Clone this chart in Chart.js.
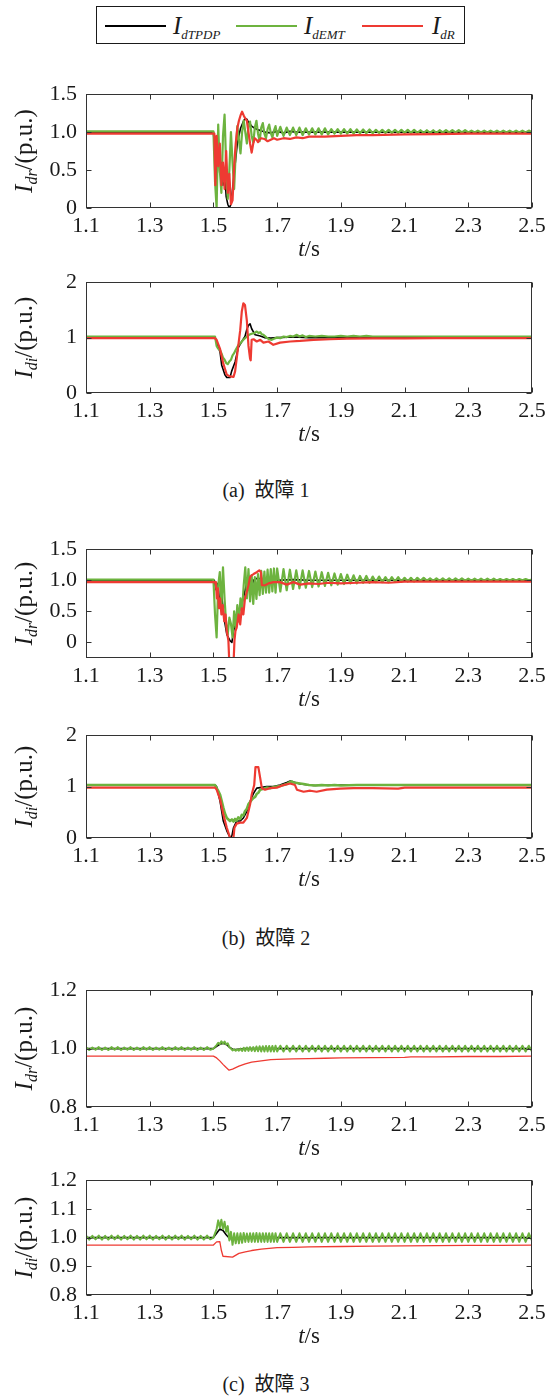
<!DOCTYPE html>
<html><head><meta charset="utf-8">
<script src="https://cdn.jsdelivr.net/npm/chart.js@4.4.1/dist/chart.umd.min.js"></script>
<style>
html,body{margin:0;padding:0;background:#fff;}
#page{position:relative;width:558px;height:1396px;overflow:hidden;background:#fff;font-family:"Liberation Serif","Times New Roman",serif;color:#1a1a1a;}
.pane{position:absolute;left:0;}
.pane canvas{display:block;}
.lgbox{position:absolute;left:96px;top:6px;width:367px;height:36px;border:1.5px solid #1a1a1a;}
.lgl{position:absolute;height:2px;top:25px;}
.lgt{position:absolute;top:13px;font:italic 25px "Liberation Serif";line-height:25px;white-space:nowrap;color:#1a1a1a;}
.lgt span{font-size:13px;position:relative;top:5px;}
.cap{position:absolute;left:0;width:532px;text-align:center;font-size:20px;line-height:22px;white-space:nowrap;font-family:"Liberation Serif","Noto Sans CJK SC",serif;color:#1a1a1a;}
</style></head>
<body>
<div id="page">
  <div class="lgbox"></div>
  <div class="lgl" style="left:105px;width:61px;background:#000;"></div>
  <div class="lgt" style="left:173px;">I<span>dTPDP</span></div>
  <div class="lgl" style="left:236px;width:61px;background:#6db33f;"></div>
  <div class="lgt" style="left:304px;">I<span>dEMT</span></div>
  <div class="lgl" style="left:362px;width:61px;background:#ee3a32;"></div>
  <div class="lgt" style="left:432px;">I<span>dR</span></div>

  <div class="pane" style="top:72px;"><canvas id="cA1" width="558" height="196" style="width:558px;height:196px;"></canvas></div>
  <div class="pane" style="top:260px;"><canvas id="cA2" width="558" height="193" style="width:558px;height:193px;"></canvas></div>
  <div class="cap" style="top:479px;">(a)&nbsp;&nbsp;故障 1</div>
  <div class="pane" style="top:527px;"><canvas id="cB1" width="558" height="191" style="width:558px;height:191px;"></canvas></div>
  <div class="pane" style="top:713px;"><canvas id="cB2" width="558" height="185" style="width:558px;height:185px;"></canvas></div>
  <div class="cap" style="top:927px;">(b)&nbsp;&nbsp;故障 2</div>
  <div class="pane" style="top:968px;"><canvas id="cC1" width="558" height="199" style="width:558px;height:199px;"></canvas></div>
  <div class="pane" style="top:1158px;"><canvas id="cC2" width="558" height="197" style="width:558px;height:197px;"></canvas></div>
  <div class="cap" style="top:1373px;">(c)&nbsp;&nbsp;故障 3</div>
</div>
<script>
// ---------- tick values / labels ----------
const xTicks = [1.1, 1.3, 1.5, 1.7, 1.9, 2.1, 2.3, 2.5];
const xTickLabels = ['1.1', '1.3', '1.5', '1.7', '1.9', '2.1', '2.3', '2.5'];
const yTicksDr12 = [0, 0.5, 1.0, 1.5];
const yLabelsDr12 = ['0', '0.5', '1.0', '1.5'];
const yTicksDi12 = [0, 1, 2];
const yLabelsDi12 = ['0', '1', '2'];
const yTicksDr3 = [0.8, 1.0, 1.2];
const yLabelsDr3 = ['0.8', '1.0', '1.2'];
const yTicksDi3 = [0.8, 0.9, 1.0, 1.1, 1.2];
const yLabelsDi3 = ['0.8', '0.9', '1.0', '1.1', '1.2'];

// ---------- shared time samples (s) ----------
const tPre = [1.10,1.11,1.12,1.13,1.14,1.15,1.16,1.17,1.18,1.19,1.20,1.21,1.22,1.23,1.24,1.25,1.26,1.27,1.28,1.29,
  1.30,1.31,1.32,1.33,1.34,1.35,1.36,1.37,1.38,1.39,1.40,1.41,1.42,1.43,1.44,1.45,1.46,1.47,1.48,1.49];
const tFine = [1.500,1.505,1.510,1.515,1.520,1.525,1.530,1.535,1.540,1.545,1.550,1.555,1.560,1.565,1.570,1.575,1.580,1.585,1.590,1.595,
  1.600,1.605,1.610,1.615,1.620,1.625,1.630,1.635,1.640,1.645,1.650,1.655,1.660,1.665,1.670,1.675,1.680,1.685,1.690,1.695];
const tSteady = [1.70,1.71,1.72,1.73,1.74,1.75,1.76,1.77,1.78,1.79,1.80,1.81,1.82,1.83,1.84,1.85,1.86,1.87,1.88,1.89,
  1.90,1.91,1.92,1.93,1.94,1.95,1.96,1.97,1.98,1.99,2.00,2.01,2.02,2.03,2.04,2.05,2.06,2.07,2.08,2.09,
  2.10,2.11,2.12,2.13,2.14,2.15,2.16,2.17,2.18,2.19,2.20,2.21,2.22,2.23,2.24,2.25,2.26,2.27,2.28,2.29,
  2.30,2.31,2.32,2.33,2.34,2.35,2.36,2.37,2.38,2.39,2.40,2.41,2.42,2.43,2.44,2.45,2.46,2.47,2.48,2.49,2.50];

// ---------- (a) fault 1, I_dr ----------
const kA1T = [1.1,1.5,1.505,1.51,1.515,1.52,1.525,1.53,1.535,1.54,1.545,1.55,1.555,1.56,1.565,1.57,1.575,1.58,1.585,1.59,1.595,1.6,1.605,1.61,1.62,1.63,1.64,1.65,1.66,1.68,1.7,1.72,1.74,1.76,1.8,1.9,2.0,2.5];
const kA1V = [1.0,1.0,0.7,0.35,0.8,0.45,0.6,0.3,0.5,0.15,0.05,0.0,0.05,0.25,0.45,0.65,0.85,0.95,1.05,1.1,1.15,1.18,1.17,1.13,1.08,1.05,1.03,1.02,1.0,0.99,1.01,0.99,1.01,1.0,1.0,1.0,1.0,1.0];
const gA1T = [1.1].concat(tFine, tSteady);
const gA1V = [1.01,
  1.01,0.35,0.0,1.1,0.5,0.2,0.95,1.23,0.55,0.12,
  0.5,1.0,0.6,0.25,0.75,1.08,0.9,0.72,1.0,1.15,
  1.0,0.85,1.08,1.14,0.95,0.86,1.06,1.15,0.98,0.88,
  1.06,1.12,0.98,0.92,1.04,1.1,0.99,0.93,1.02,1.08,
  0.95,1.07,0.95,1.06,0.96,1.06,0.96,1.06,0.96,1.05,0.97,
  1.05,0.97,1.05,0.97,1.05,0.97,1.04,0.98,1.04,0.98,
  1.04,0.98,1.04,0.98,1.035,0.985,1.035,0.985,1.035,0.985,
  1.03,0.99,1.03,0.99,1.03,0.99,1.03,0.99,1.03,0.99,
  1.03,0.99,1.03,0.99,1.025,0.99,1.025,0.99,1.025,0.99,
  1.025,0.995,1.025,0.995,1.025,0.995,1.025,0.995,1.025,0.995,
  1.02,0.995,1.02,0.995,1.02,0.995,1.02,0.995,1.02,0.995,
  1.02,0.995,1.02,0.995,1.02,0.995,1.02,0.995,1.02,1.0];
const rA1T = [1.1,1.503,1.506,1.51,1.515,1.52,1.525,1.53,1.535,1.54,1.545,1.55,1.555,1.56,1.565,1.57,1.575,1.58,1.585,1.59,1.595,1.6,1.605,1.61,1.615,1.62,1.625,1.63,1.635,1.64,1.645,1.65,1.66,1.67,1.68,1.69,1.7,1.72,1.74,1.76,1.78,1.8,1.85,1.9,1.95,2.0,2.1,2.2,2.3,2.5];
const rA1V = [0.98,0.98,0.3,0.95,0.55,0.85,0.3,0.6,0.25,0.75,0.2,0.45,0.05,0.1,0.55,0.85,1.05,1.15,1.22,1.27,1.22,1.18,1.15,1.0,0.85,0.73,0.85,0.92,0.9,0.87,0.9,0.92,0.91,0.88,0.9,0.92,0.9,0.92,0.91,0.93,0.92,0.94,0.94,0.95,0.96,0.96,0.97,0.975,0.98,0.98];

// ---------- (a) fault 1, I_di ----------
const kA2T = [1.1,1.505,1.51,1.521,1.526,1.536,1.542,1.552,1.557,1.568,1.578,1.589,1.599,1.605,1.61,1.615,1.62,1.631,1.647,1.66,1.68,1.7,1.75,1.8,2.5];
const kA2V = [1.0,1.0,0.93,0.73,0.5,0.33,0.28,0.28,0.39,0.56,0.82,0.93,1.02,1.15,1.22,1.25,1.16,1.05,1.03,1.0,0.99,1.0,1.01,1.0,1.0];
const gA2T = [1.1,1.505,1.51,1.515,1.52,1.525,1.53,1.535,1.54,1.545,1.55,1.555,1.56,1.565,1.57,1.578,1.585,1.594,1.605,1.612,1.62,1.628,1.636,1.642,1.647,1.652,1.657,1.667,1.675,1.683,1.69,1.699,1.71,1.72,1.73,1.74,1.75,1.762,1.77,1.78,1.79,1.8,1.82,1.84,1.86,1.88,1.9,1.92,1.94,1.96,1.98,2.0,2.5];
const gA2V = [1.02,1.02,0.85,0.8,0.78,0.72,0.64,0.6,0.54,0.52,0.57,0.6,0.68,0.72,0.78,0.86,0.9,0.96,1.02,1.05,1.07,1.08,1.11,1.08,1.1,1.06,1.05,1.0,0.97,0.96,0.98,1.0,0.99,1.02,1.01,1.03,1.02,1.05,1.02,1.04,1.01,1.03,1.02,1.03,1.02,1.02,1.03,1.02,1.03,1.02,1.03,1.02,1.02];
const rA2T = [1.1,1.505,1.51,1.521,1.531,1.542,1.552,1.563,1.568,1.573,1.578,1.584,1.589,1.594,1.599,1.605,1.61,1.615,1.617,1.62,1.626,1.636,1.647,1.657,1.673,1.688,1.709,1.741,1.772,1.814,1.866,1.919,2.0,2.1,2.2,2.3,2.5];
const rA2V = [0.99,0.99,0.96,0.79,0.53,0.33,0.3,0.29,0.39,0.62,0.85,1.13,1.47,1.62,1.59,1.3,0.85,0.62,0.59,0.96,0.97,0.93,0.96,0.91,0.93,0.87,0.91,0.93,0.94,0.96,0.97,0.98,0.985,0.985,0.99,0.99,0.99];

// ---------- (b) fault 2, I_dr ----------
const kB1T = [1.1,1.503,1.508,1.514,1.52,1.526,1.534,1.542,1.552,1.558,1.563,1.573,1.584,1.594,1.605,1.61,1.615,1.62,1.626,1.636,1.66,1.7,1.75,1.8,1.9,2.5];
const kB1V = [1.0,1.0,0.85,0.95,0.6,0.75,0.37,0.13,0.03,0.0,0.18,0.39,0.55,0.71,0.97,1.08,0.97,0.89,1.0,1.03,1.02,1.0,1.01,1.0,1.0,1.0];
const gB1T = [1.1].concat(tFine, tSteady);
const gB1V = [1.01,
  1.01,0.45,0.08,0.92,1.13,0.55,1.21,0.7,0.3,0.13,
  0.4,0.3,0.08,0.5,0.24,0.6,0.34,0.71,0.5,0.92,
  1.21,0.71,1.18,0.66,1.08,0.62,1.05,0.7,1.1,0.76,
  1.15,0.78,1.14,0.8,1.17,0.8,1.18,0.82,1.19,0.8,
  1.19,0.82,1.18,0.84,1.17,0.86,1.16,0.87,1.16,0.88,1.15,
  0.89,1.14,0.9,1.13,0.91,1.12,0.92,1.11,0.93,1.1,
  0.94,1.09,0.95,1.08,0.95,1.07,0.96,1.07,0.96,1.06,
  0.97,1.06,0.97,1.05,0.97,1.05,0.98,1.05,0.98,1.04,
  0.98,1.04,0.98,1.04,0.99,1.04,0.99,1.03,0.99,1.03,
  0.99,1.03,0.99,1.03,0.99,1.03,0.995,1.03,0.995,1.025,
  0.995,1.025,0.995,1.025,0.995,1.025,0.995,1.025,0.995,1.02,
  0.995,1.02,0.995,1.02,0.995,1.02,1.0,1.02,1.0,1.01];
const rB1T = [1.1,1.505,1.508,1.511,1.514,1.517,1.521,1.525,1.529,1.534,1.538,1.542,1.547,1.55,1.563,1.566,1.569,1.573,1.579,1.584,1.589,1.594,1.599,1.605,1.61,1.615,1.62,1.626,1.636,1.644,1.649,1.652,1.662,1.673,1.688,1.709,1.73,1.751,1.772,1.8,1.83,1.86,1.9,1.95,2.0,2.05,2.1,2.2,2.5];
const rB1V = [0.97,0.97,0.92,0.71,0.87,0.55,0.71,0.45,0.6,0.34,0.45,0.18,0.03,-0.35,-0.35,0.03,0.18,0.24,0.45,0.29,0.55,0.45,0.71,0.82,0.92,1.05,1.08,1.1,1.13,1.16,1.13,0.92,0.92,0.95,0.97,0.97,0.93,0.97,0.93,0.95,0.94,0.96,0.95,0.96,0.97,0.96,0.98,0.98,0.98];

// ---------- (b) fault 2, I_di ----------
const kB2T = [1.1,1.505,1.51,1.521,1.531,1.542,1.552,1.558,1.563,1.573,1.584,1.594,1.605,1.615,1.626,1.636,1.647,1.667,1.688,1.709,1.73,1.741,1.751,1.772,1.814,1.9,2.5];
const kB2V = [1.03,1.03,1.0,0.71,0.33,0.14,0.01,0.04,0.2,0.33,0.33,0.39,0.52,0.71,0.87,0.97,0.98,1.0,1.0,1.03,1.08,1.11,1.09,1.05,1.02,1.03,1.03];
const gB2T = [1.1,1.505,1.51,1.515,1.521,1.526,1.531,1.536,1.542,1.547,1.552,1.558,1.563,1.568,1.573,1.578,1.584,1.589,1.594,1.599,1.605,1.61,1.615,1.62,1.626,1.631,1.636,1.641,1.647,1.657,1.667,1.678,1.688,1.699,1.709,1.72,1.73,1.741,1.746,1.751,1.762,1.772,1.783,1.8,1.82,1.84,1.86,1.88,1.9,1.95,2.0,2.1,2.5];
const gB2V = [1.03,1.03,0.97,0.92,0.84,0.72,0.59,0.48,0.39,0.36,0.33,0.36,0.32,0.37,0.34,0.4,0.37,0.45,0.44,0.52,0.57,0.66,0.7,0.74,0.78,0.8,0.86,0.88,0.94,0.96,0.98,0.97,0.99,1.0,1.01,1.03,1.05,1.09,1.1,1.08,1.07,1.06,1.05,1.03,1.02,1.03,1.02,1.03,1.02,1.03,1.03,1.03,1.03];
const rB2T = [1.1,1.505,1.51,1.521,1.531,1.542,1.552,1.556,1.56,1.563,1.566,1.573,1.584,1.594,1.605,1.61,1.615,1.62,1.628,1.632,1.641,1.647,1.652,1.662,1.678,1.699,1.72,1.741,1.756,1.762,1.783,1.804,1.824,1.856,1.898,1.94,2.0,2.08,2.1,2.5];
const rB2V = [0.98,0.98,0.94,0.75,0.46,0.2,0.01,-0.05,-0.05,0.01,0.2,0.28,0.3,0.3,0.39,0.52,0.65,0.84,1.03,1.38,1.38,1.16,0.97,0.94,0.97,0.98,1.03,1.06,1.03,0.94,0.9,0.92,0.9,0.94,0.96,0.97,0.97,0.96,0.98,0.98];

// ---------- (c) fault 3, I_dr ----------
const kC1T = [1.1,1.5,1.51,1.52,1.53,1.54,1.55,1.56,1.57,1.6,2.5];
const kC1V = [1.0,1.0,1.008,1.015,1.018,1.015,1.005,0.998,0.997,1.0,1.0];
const gC1T = tPre.concat(tFine, tSteady);
const gC1V = [
  1.005,0.995,1.004,0.996,1.005,0.995,1.004,0.995,1.005,0.996,
  1.005,0.995,1.004,0.996,1.005,0.995,1.004,0.995,1.005,0.996,
  1.005,0.995,1.004,0.996,1.005,0.995,1.004,0.995,1.005,0.996,
  1.005,0.995,1.004,0.996,1.005,0.995,1.004,0.995,1.005,0.996,
  1.0,1.006,1.012,1.02,1.015,1.025,1.017,1.024,1.014,1.018,
  1.005,1.0,0.994,0.998,0.993,0.998,0.993,1.0,0.992,1.003,
  0.992,1.004,0.992,1.005,0.992,1.005,0.991,1.007,0.991,1.008,
  0.99,1.008,0.99,1.009,0.99,1.009,0.99,1.009,0.99,1.01,
  0.99,1.01,0.99,1.01,0.99,1.01,0.99,1.01,0.99,1.01,0.99,
  1.01,0.99,1.01,0.99,1.01,0.99,1.01,0.99,1.01,0.99,
  1.01,0.99,1.01,0.99,1.01,0.99,1.01,0.99,1.01,0.99,
  1.01,0.99,1.01,0.99,1.01,0.99,1.01,0.99,1.01,0.99,
  1.01,0.99,1.01,0.99,1.01,0.99,1.01,0.99,1.01,0.99,
  1.01,0.99,1.01,0.99,1.01,0.99,1.01,0.99,1.01,0.99,
  1.01,0.99,1.01,0.99,1.01,0.99,1.01,0.99,1.01,0.99,
  1.01,0.99,1.01,0.99,1.01,0.99,1.01,0.99,1.01,0.99];
const rC1T = [1.1,1.5,1.51,1.52,1.53,1.54,1.549,1.56,1.58,1.6,1.62,1.65,1.68,1.7,1.75,1.8,1.85,1.9,2.0,2.1,2.12,2.2,2.3,2.4,2.5];
const rC1V = [0.974,0.974,0.968,0.958,0.946,0.935,0.926,0.93,0.94,0.948,0.954,0.958,0.962,0.963,0.965,0.966,0.967,0.968,0.969,0.97,0.972,0.972,0.973,0.973,0.974];

// ---------- (c) fault 3, I_di ----------
const kC2T = [1.1,1.5,1.51,1.52,1.53,1.54,1.55,1.56,1.6,2.5];
const kC2V = [1.0,1.0,1.015,1.03,1.025,1.01,0.998,0.995,1.0,1.0];
const gC2T = tPre.concat(tFine, tSteady);
const gC2V = [
  1.007,0.993,1.006,0.994,1.007,0.993,1.006,0.993,1.007,0.994,
  1.007,0.993,1.006,0.994,1.007,0.993,1.006,0.993,1.007,0.994,
  1.007,0.993,1.006,0.994,1.007,0.993,1.006,0.993,1.007,0.994,
  1.007,0.993,1.006,0.994,1.007,0.993,1.006,0.993,1.007,0.994,
  1.0,1.015,1.03,1.06,1.035,1.062,1.03,1.055,1.02,1.04,
  0.99,1.02,0.975,1.015,0.98,1.015,0.98,1.015,0.982,1.016,
  0.985,1.014,0.985,1.015,0.985,1.015,0.985,1.016,0.985,1.015,
  0.985,1.015,0.985,1.015,0.985,1.015,0.985,1.015,0.985,1.015,
  0.985,1.015,0.985,1.015,0.985,1.015,0.985,1.015,0.985,1.015,0.985,
  1.015,0.985,1.015,0.985,1.015,0.985,1.015,0.985,1.015,0.985,
  1.015,0.985,1.015,0.985,1.015,0.985,1.015,0.985,1.015,0.985,
  1.015,0.985,1.015,0.985,1.015,0.985,1.015,0.985,1.015,0.985,
  1.015,0.985,1.015,0.985,1.015,0.985,1.015,0.985,1.015,0.985,
  1.015,0.985,1.015,0.985,1.015,0.985,1.015,0.985,1.015,0.985,
  1.015,0.985,1.015,0.985,1.015,0.985,1.015,0.985,1.015,0.985,
  1.015,0.985,1.015,0.985,1.015,0.985,1.015,0.985,1.015,0.99];
const rC2T = [1.1,1.5,1.51,1.52,1.525,1.53,1.56,1.58,1.6,1.62,1.65,1.7,1.75,1.8,1.9,2.0,2.1,2.2,2.3,2.4,2.5];
const rC2V = [0.974,0.974,0.985,0.986,0.955,0.935,0.932,0.945,0.95,0.955,0.96,0.965,0.966,0.968,0.969,0.97,0.971,0.972,0.973,0.973,0.974];

// ---------- styles ----------
const BLACK = '#000000', GREEN = '#6db33f', RED = '#ee3a32';
const SERIF = '"Liberation Serif", "Times New Roman", serif';
Chart.defaults.font.family = SERIF;

function pts(T, V) {
  const n = Math.min(T.length, V.length);
  const out = [];
  for (let i = 0; i < n; i++) out.push({x: T[i], y: V[i]});
  return out;
}

const framePlugin = {
  id: 'frame',
  afterDraw(chart) {
    const o = chart.options.plugins.frame;
    const {ctx, chartArea: a} = chart;
    const xs = chart.scales.x, ys = chart.scales.y;
    ctx.save();
    const L = Math.round(a.left) + 0.5, R = Math.round(a.right) - 0.5;
    const T = Math.round(a.top) + 0.5, B = Math.round(a.bottom) - 0.5;
    ctx.strokeStyle = '#333';
    ctx.lineWidth = 1;
    ctx.strokeRect(L, T, R - L, B - T);
    const tl = 5;
    ctx.beginPath();
    xs.ticks.forEach(t => {
      const px = Math.round(xs.getPixelForValue(t.value)) + 0.5;
      ctx.moveTo(px, B); ctx.lineTo(px, B - tl);
      ctx.moveTo(px, T); ctx.lineTo(px, T + tl);
    });
    ys.ticks.forEach(t => {
      const py = Math.round(ys.getPixelForValue(t.value)) + 0.5;
      ctx.moveTo(L, py); ctx.lineTo(L + tl, py);
      ctx.moveTo(R, py); ctx.lineTo(R - tl, py);
    });
    ctx.stroke();

    // y-axis title (rotated, with subscript)
    ctx.fillStyle = '#1a1a1a';
    ctx.textBaseline = 'alphabetic';
    ctx.textAlign = 'left';
    const yParts = [
      {t: 'I', f: 'italic 25px ' + SERIF, dy: 0},
      {t: o.sub, f: 'italic 16px ' + SERIF, dy: 5},
      {t: '/(p.u.)', f: '25px ' + SERIF, dy: 0}
    ];
    let w = 0;
    yParts.forEach(p => { ctx.font = p.f; p.w = ctx.measureText(p.t).width; w += p.w; });
    ctx.save();
    ctx.translate(24, (a.top + a.bottom) / 2);
    ctx.rotate(-Math.PI / 2);
    let cx = -w / 2;
    yParts.forEach(p => { ctx.font = p.f; ctx.fillText(p.t, cx, 8 + p.dy); cx += p.w; });
    ctx.restore();

    // x-axis title
    const xParts = [
      {t: 't', f: 'italic 23px ' + SERIF},
      {t: '/s', f: '23px ' + SERIF}
    ];
    w = 0;
    xParts.forEach(p => { ctx.font = p.f; p.w = ctx.measureText(p.t).width; w += p.w; });
    cx = (a.left + a.right) / 2 - w / 2;
    xParts.forEach(p => { ctx.font = p.f; ctx.fillText(p.t, cx, a.bottom + 48); cx += p.w; });
    ctx.restore();
  }
};

function makeChart(id, cfg) {
  const datasets = [
    {label: 'IdR', data: pts(cfg.r[0], cfg.r[1]), borderColor: RED, borderWidth: cfg.rw || 2.2, order: 0},
    {label: 'IdEMT', data: pts(cfg.g[0], cfg.g[1]), borderColor: GREEN, borderWidth: cfg.gw || 2.2, order: 1},
    {label: 'IdTPDP', data: pts(cfg.k[0], cfg.k[1]), borderColor: BLACK, borderWidth: 1.6, order: 2}
  ];
  datasets.forEach(d => { d.pointRadius = 0; d.tension = 0; d.fill = false; d.clip = 0; d.borderJoinStyle = 'round'; });
  return new Chart(document.getElementById(id), {
    type: 'line',
    data: {datasets},
    options: {
      responsive: false,
      animation: false,
      events: [],
      devicePixelRatio: 1,
      parsing: false,
      normalized: true,
      layout: {padding: {top: 20, left: 0, right: 26, bottom: 0}},
      plugins: {legend: {display: false}, tooltip: {enabled: false}, frame: {sub: cfg.sub}},
      scales: {
        x: {
          type: 'linear', min: 1.1, max: 2.5,
          grid: {display: false, drawTicks: false},
          border: {display: false},
          afterBuildTicks: s => { s.ticks = xTicks.map(v => ({value: v})); },
          afterFit: s => { s.height = 60; },
          ticks: {
            autoSkip: false, maxRotation: 0, minRotation: 0, padding: 5,
            color: '#1a1a1a', font: {family: SERIF, size: 22},
            callback: (v, i) => xTickLabels[i]
          }
        },
        y: {
          type: 'linear', min: cfg.ymin, max: cfg.ymax,
          grid: {display: false, drawTicks: false},
          border: {display: false},
          afterBuildTicks: s => { s.ticks = cfg.yt.map(v => ({value: v})); },
          afterFit: s => { s.width = 86; },
          ticks: {
            autoSkip: false, padding: 9,
            color: '#1a1a1a', font: {family: SERIF, size: 22},
            callback: (v, i) => cfg.yl[i]
          }
        }
      }
    },
    plugins: [framePlugin]
  });
}

makeChart('cA1', {sub: 'dr', ymin: 0, ymax: 1.5, yt: yTicksDr12, yl: yLabelsDr12,
  k: [kA1T, kA1V], g: [gA1T, gA1V], r: [rA1T, rA1V]});
makeChart('cA2', {sub: 'di', ymin: 0, ymax: 2, yt: yTicksDi12, yl: yLabelsDi12,
  k: [kA2T, kA2V], g: [gA2T, gA2V], r: [rA2T, rA2V]});
makeChart('cB1', {sub: 'dr', ymin: -0.25, ymax: 1.5, yt: yTicksDr12, yl: yLabelsDr12,
  k: [kB1T, kB1V], g: [gB1T, gB1V], r: [rB1T, rB1V]});
makeChart('cB2', {sub: 'di', ymin: 0, ymax: 2, yt: yTicksDi12, yl: yLabelsDi12,
  k: [kB2T, kB2V], g: [gB2T, gB2V], r: [rB2T, rB2V], gw: 2.6});
makeChart('cC1', {sub: 'dr', ymin: 0.8, ymax: 1.2, yt: yTicksDr3, yl: yLabelsDr3,
  k: [kC1T, kC1V], g: [gC1T, gC1V], r: [rC1T, rC1V], rw: 1.3, gw: 2});
makeChart('cC2', {sub: 'di', ymin: 0.8, ymax: 1.2, yt: yTicksDi3, yl: yLabelsDi3,
  k: [kC2T, kC2V], g: [gC2T, gC2V], r: [rC2T, rC2V], rw: 1.3, gw: 2});
</script>
</body></html>
